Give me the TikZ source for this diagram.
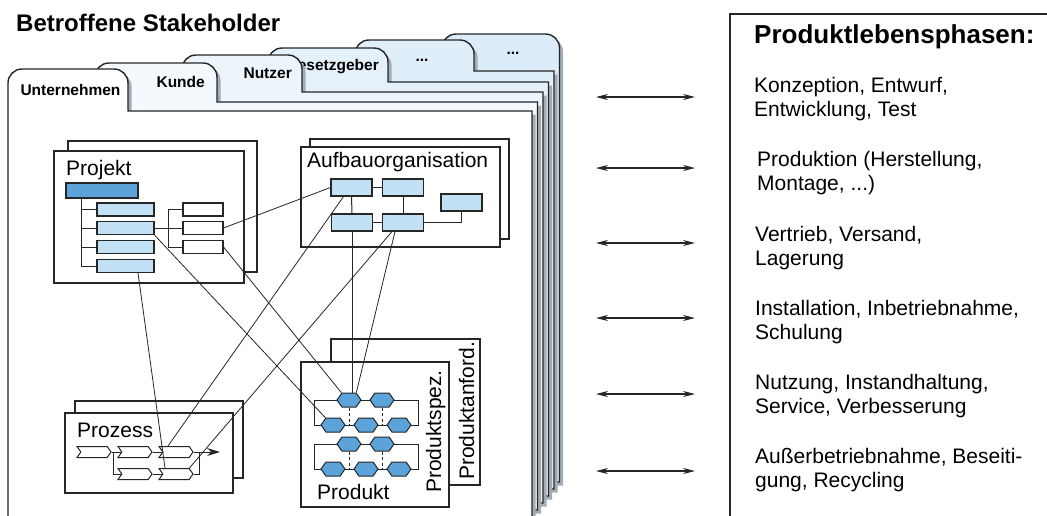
\documentclass[tikz,border=0pt]{standalone}
\usepackage{fontspec}
\setmainfont{Liberation Sans}
\usetikzlibrary{arrows.meta,shapes.symbols,shadows}

\definecolor{dblue}{HTML}{5BA3D9}
\definecolor{lblue}{HTML}{C2E1F5}
\definecolor{lnk}{HTML}{262626}
\definecolor{shd}{HTML}{A3ABB4}
\definecolor{tabA}{HTML}{F4F9FD}
\definecolor{tabB}{HTML}{ECF5FC}
\definecolor{tabC}{HTML}{E5F1FA}
\definecolor{tabD}{HTML}{E0EEF9}
\definecolor{tabE}{HTML}{DBECF8}

\begin{document}
\begin{tikzpicture}[x=1pt, y=-1pt,
    page/.style={draw=lnk, line width=1.4pt,
        drop shadow={shadow xshift=3.5pt, shadow yshift=-3.5pt, fill=shd, opacity=1}},
    tablabel/.style={font=\fontsize{15.5}{18}\selectfont\bfseries, inner sep=0pt},
    heading/.style={font=\fontsize{26}{30}\selectfont\bfseries, inner sep=0pt},
    frame/.style={draw=lnk, line width=1.1pt, fill=white},
    boxlabel/.style={font=\fontsize{21}{25}\selectfont, inner sep=0pt},
    phase/.style={font=\fontsize{21}{24}\selectfont, inner sep=0pt, align=left, anchor=base west},
    bar/.style={draw=lnk, line width=1.1pt, inner sep=0pt, minimum height=13pt},
    orgbox/.style={draw=lnk, line width=1.1pt, fill=lblue, inner sep=0pt,
        minimum width=41pt, minimum height=17pt},
    hexa/.style={signal, signal to=east and west, signal pointer angle=110,
        draw=lnk, line width=1pt, fill=dblue, inner sep=0pt,
        minimum width=24pt, minimum height=14pt},
    chev/.style={signal, signal from=west, signal to=east, signal pointer angle=110,
        draw=lnk, line width=1pt, fill=white, inner sep=0pt,
        minimum width=34pt, minimum height=11pt},
    link/.style={draw=lnk, line width=0.8pt},
    both/.style={lnk, line width=1.2pt,
        {Stealth[length=12pt,width=6pt]}-{Stealth[length=12pt,width=6pt]}}
]
    \useasboundingbox (0,0) rectangle (1047,515);

    % Title
    \node[heading, font=\fontsize{24}{28}\selectfont\bfseries, anchor=base west] (title) at (16,31) {Betroffene Stakeholder};

    % Stacked pages with their tabs, back to front
    \draw[page, fill=tabE] (442,482) -- (442,48) .. controls (442,40.27) and (448.27,34) .. (456,34)
        -- (545.5,34) .. controls (553.23,34) and (559.5,40.27) .. (559.5,48) -- (559.5,482) -- cycle;
    \node[tablabel, anchor=base] (te) at (513,54) {...};
    \draw[page, fill=tabD] (355,489) -- (355,54) .. controls (355,46.27) and (361.27,40) .. (369,40)
        -- (460,40) .. controls (467.73,40) and (474,46.27) .. (474,54) -- (474,71) -- (554,71) -- (554,489) -- cycle;
    \node[tablabel, anchor=base] (td) at (422,61) {...};
    \draw[page, fill=tabC] (268,496) -- (268,62) .. controls (268,54.27) and (274.27,48) .. (282,48)
        -- (374,48) .. controls (381.73,48) and (388,54.27) .. (388,62) -- (388,82) -- (548.5,82) -- (548.5,496) -- cycle;
    \node[tablabel, anchor=base east] (tg) at (379,70) {Gesetzgeber};
    \draw[page, fill=tabB] (182,503) -- (182,69) .. controls (182,61.27) and (188.27,55) .. (196,55)
        -- (288,55) .. controls (295.73,55) and (302,61.27) .. (302,69) -- (302,92) -- (543,92) -- (543,503) -- cycle;
    \node[tablabel, anchor=base east] (tn) at (292,78) {Nutzer};
    \draw[page, fill=tabA] (95,510) -- (95,77) .. controls (95,69.27) and (101.27,63) .. (109,63)
        -- (203,63) .. controls (210.73,63) and (217,69.27) .. (217,77) -- (217,102) -- (537.5,102) -- (537.5,510) -- cycle;
    \node[tablabel, anchor=base east] (tk) at (205,87) {Kunde};
    \draw[page, fill=white] (8,530) -- (8,83) .. controls (8,75.27) and (14.27,69) .. (22,69)
        -- (114,69) .. controls (121.73,69) and (128,75.27) .. (128,83) -- (128,111) -- (532,111) -- (532,530) -- cycle;
    \node[tablabel, anchor=base] (tu) at (70.5,95) {Unternehmen};

    % Projekt
    \draw[frame] (68,141) rectangle (257,272);
    \draw[frame] (54,151) rectangle (244,283);
    \node[boxlabel, anchor=base west] (pj) at (66,175) {Projekt};
    \node[bar, fill=dblue, minimum width=72pt, minimum height=15pt] (dk) at (102,190.5) {};
    \node[bar, fill=lblue, minimum width=57pt] (l1) at (125.5,209.5) {};
    \node[bar, fill=lblue, minimum width=57pt] (l2) at (125.5,228) {};
    \node[bar, fill=lblue, minimum width=57pt] (l3) at (125.5,247) {};
    \node[bar, fill=lblue, minimum width=57pt] (l4) at (125.5,266) {};
    \node[bar, fill=white, minimum width=40pt] (w1) at (203,209.5) {};
    \node[bar, fill=white, minimum width=40pt] (w2) at (203,228) {};
    \node[bar, fill=white, minimum width=40pt] (w3) at (203,247) {};
    \coordinate (tr) at (81,198);
    \coordinate (wt) at (168,0);
    \draw[link, line width=1pt] (tr) |- (l4.west);
    \draw[link, line width=1pt] (l1.west -| tr) -- (l1.west);
    \draw[link, line width=1pt] (l2.west -| tr) -- (l2.west);
    \draw[link, line width=1pt] (l3.west -| tr) -- (l3.west);
    \draw[link, line width=1pt] (l2.east) -- (w2.west);
    \draw[link, line width=1pt] (w1.west) -- (w1.west -| wt) -- (w3.west -| wt) -- (w3.west);

    % Aufbauorganisation
    \draw[frame] (310,139) rectangle (509,239);
    \draw[frame] (301,147) rectangle (500,247);
    \node[boxlabel, anchor=base west] (ao) at (307,167) {Aufbauorganisation};
    \node[orgbox] (o1) at (351.5,187.5) {};
    \node[orgbox] (o2) at (403,187.5) {};
    \node[orgbox] (o3) at (352,222.5) {};
    \node[orgbox] (o4) at (403,222.5) {};
    \node[orgbox] (o5) at (461.5,202.5) {};
    \draw[link, line width=1pt] (o1.east) -- (o2.west);
    \draw[link, line width=1pt] (o3.east) -- (o4.west);
    \draw[link, line width=1pt] (o1.south) -- (o3.north);
    \draw[link, line width=1pt] (o2.south) -- (o4.north);
    \draw[link, line width=1pt] (o4.east) -| (o5.south);

    % Prozess
    \draw[frame] (75,401) rectangle (243,478);
    \draw[frame] (65,413) rectangle (233,493);
    \node[boxlabel, anchor=base west] (pz) at (77,437) {Prozess};
    \node[chev] (c11) at (94,452) {};
    \node[chev] (c12) at (135,452) {};
    \node[chev] (c13) at (176,452) {};
    \node[chev] (c22) at (135,474) {};
    \node[chev] (c23) at (176,474) {};
    \coordinate (pend) at (220,452);
    \draw[link, line width=1pt] (c11.east) -- (c12.west);
    \draw[link, line width=1pt] (c12.east) -- (c13.west);
    \draw[link, line width=1pt] (c22.east) -- (c23.west);
    \draw[link, line width=1pt] (113,452) |- (c22.west);
    \draw[link, line width=1pt] (c23.east) -| (199,452);
    \draw[link, line width=1pt, -{Stealth[length=13pt,width=8pt]}] (c13.east) -- (pend);

    % Produkt
    \draw[frame] (331,339) rectangle (480,485);
    \draw[frame] (301,362) rectangle (449,507);
    \node[boxlabel, anchor=base west] (pd) at (317,499) {Produkt};
    \node[boxlabel, anchor=base west, rotate=90] (ps) at (441,493) {Produktspez.};
    \node[boxlabel, anchor=base west, rotate=90] (pa) at (474,480) {Produktanford.};
    \draw[link, line width=1pt] (314,400) rectangle (418,425);
    \draw[link, line width=1pt] (314,444) rectangle (418,469);
    \node[hexa] (h11) at (349,400) {};
    \node[hexa] (h12) at (382,400) {};
    \node[hexa] (h21) at (333,425) {};
    \node[hexa] (h22) at (366,425) {};
    \node[hexa] (h23) at (399,425) {};
    \node[hexa] (h31) at (349,444) {};
    \node[hexa] (h32) at (382,444) {};
    \node[hexa] (h41) at (333,469) {};
    \node[hexa] (h42) at (366,469) {};
    \node[hexa] (h43) at (399,469) {};
    \draw[link, line width=1pt, dash pattern=on 3pt off 2.5pt] (h11.south) -- (h11.south |- h21);
    \draw[link, line width=1pt, dash pattern=on 3pt off 2.5pt] (h12.south) -- (h12.south |- h21);
    \draw[link, line width=1pt, dash pattern=on 3pt off 2.5pt] (h31.south) -- (h31.south |- h41);
    \draw[link, line width=1pt, dash pattern=on 3pt off 2.5pt] (h32.south) -- (h32.south |- h41);

    % Relations between the views
    \draw[link] (w2.east) -- (o1.west);
    \draw[link] (l2.south east) -- (h21.north west);
    \draw[link] (w3.east) -- (h11.north west);
    \draw[link] ([xshift=12.5pt]l4.south) -- ([xshift=-11pt]c23.north);
    \draw[link] ([xshift=-8pt]o1.south) -- ([xshift=-8pt]c13.north);
    \draw[link] ([xshift=-11pt]o4.south) -- (c23.north east);
    \draw[link] ([xshift=-8pt]o4.south) -- (h11.north east);
    \draw[link] (o3.south) -- (o3.south |- h11.north);

    % Life cycle phases (base = last line)
    \draw[draw=lnk, line width=1.2pt] (730,530) -- (730,14) -- (1060,14);
    \node[heading, anchor=base west] (hd) at (754,43) {Produktlebensphasen:};
    \node[phase] (ph1) at (754,116) {Konzeption, Entwurf,\\Entwicklung, Test};
    \node[phase] (ph2) at (757,190) {Produktion (Herstellung,\\Montage, ...)};
    \node[phase] (ph3) at (755,265) {Vertrieb, Versand,\\Lagerung};
    \node[phase] (ph4) at (755,339) {Installation, Inbetriebnahme,\\Schulung};
    \node[phase] (ph5) at (755,413) {Nutzung, Instandhaltung,\\Service, Verbesserung};
    \node[phase] (ph6) at (755,487) {Außerbetriebnahme, Beseiti-\\gung, Recycling};

    % Arrows between stakeholders and phases
    \coordinate (a1) at (596,97);  \coordinate (b1) at (695,97);
    \coordinate (a2) at (596,168); \coordinate (b2) at (695,168);
    \coordinate (a3) at (596,243); \coordinate (b3) at (695,243);
    \coordinate (a4) at (596,318); \coordinate (b4) at (695,318);
    \coordinate (a5) at (596,394); \coordinate (b5) at (695,394);
    \coordinate (a6) at (596,471); \coordinate (b6) at (695,471);
    \draw[both] (a1) -- (b1);
    \draw[both] (a2) -- (b2);
    \draw[both] (a3) -- (b3);
    \draw[both] (a4) -- (b4);
    \draw[both] (a5) -- (b5);
    \draw[both] (a6) -- (b6);
\end{tikzpicture}
\end{document}
